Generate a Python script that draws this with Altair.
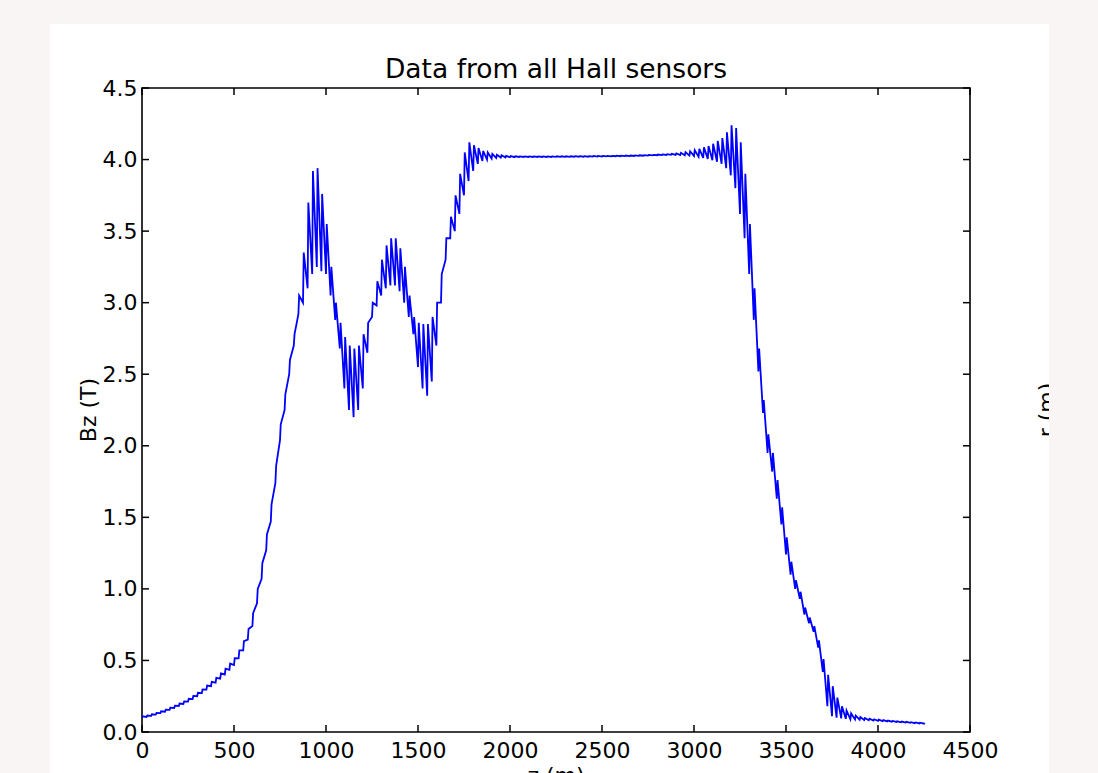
import altair as alt
import pandas as pd

# ---- data ----
Z_POS = list(range(0, 4251, 25))          # sampling positions along z (m)
SPIKE_DZ = 4                               # offset of the paired sensor reading

BZ_LOW = [
    0.100, 0.105, 0.113, 0.122, 0.132, 0.142, 0.155, 0.168, 0.182, 0.196,
    0.212, 0.230, 0.250, 0.272, 0.296, 0.320, 0.345, 0.373, 0.402, 0.435,
    0.468, 0.515, 0.570, 0.645, 0.740, 0.900, 1.070, 1.270, 1.470, 1.740,
    2.040, 2.250, 2.500, 2.700, 2.920, 3.000, 3.100, 3.200, 3.250, 3.220,
    3.200, 3.050, 2.880, 2.680, 2.400, 2.250, 2.200, 2.250, 2.400, 2.650,
    2.900, 2.980, 3.050, 3.100, 3.120, 3.120, 3.080, 3.000, 2.900, 2.780,
    2.550, 2.400, 2.350, 2.450, 2.700, 3.000, 3.300, 3.450, 3.500, 3.620,
    3.750, 3.850, 3.920, 3.970, 3.990, 4.000, 4.008, 4.012, 4.014, 4.015,
    4.016, 4.017, 4.018, 4.018, 4.018, 4.018, 4.018, 4.018, 4.018, 4.018,
    4.019, 4.019, 4.019, 4.019, 4.020, 4.020, 4.020, 4.020, 4.021, 4.021,
    4.021, 4.022, 4.022, 4.023, 4.023, 4.024, 4.024, 4.025, 4.026, 4.027,
    4.028, 4.029, 4.030, 4.031, 4.032, 4.033, 4.033, 4.032, 4.030, 4.028,
    4.025, 4.020, 4.012, 4.005, 3.995, 3.985, 3.970, 3.940, 3.890, 3.800,
    3.620, 3.450, 3.200, 2.880, 2.520, 2.230, 1.950, 1.820, 1.630, 1.450,
    1.240, 1.100, 1.000, 0.930, 0.820, 0.760, 0.700, 0.590, 0.420, 0.180,
    0.110, 0.100, 0.095, 0.092, 0.090, 0.088, 0.086, 0.084, 0.082, 0.080,
    0.078, 0.076, 0.074, 0.072, 0.070, 0.068, 0.066, 0.064, 0.062, 0.060,
    0.058,
]

BZ_HIGH = [
    0.110, 0.115, 0.124, 0.134, 0.145, 0.156, 0.170, 0.184, 0.199, 0.214,
    0.232, 0.252, 0.274, 0.298, 0.324, 0.350, 0.378, 0.410, 0.442, 0.478,
    0.516, 0.570, 0.635, 0.720, 0.830, 1.000, 1.180, 1.380, 1.590, 1.860,
    2.150, 2.360, 2.600, 2.780, 3.050, 3.350, 3.700, 3.920, 3.940, 3.760,
    3.550, 3.250, 3.000, 2.860, 2.760, 2.700, 2.680, 2.700, 2.780, 2.860,
    3.000, 3.150, 3.300, 3.400, 3.450, 3.450, 3.380, 3.250, 3.050, 2.900,
    2.860, 2.850, 2.850, 2.900, 3.000, 3.200, 3.450, 3.600, 3.750, 3.900,
    4.050, 4.120, 4.100, 4.080, 4.060, 4.050, 4.040, 4.034, 4.030, 4.026,
    4.024, 4.023, 4.022, 4.022, 4.022, 4.022, 4.022, 4.022, 4.022, 4.022,
    4.023, 4.023, 4.023, 4.023, 4.024, 4.024, 4.024, 4.024, 4.025, 4.025,
    4.025, 4.026, 4.026, 4.027, 4.027, 4.028, 4.028, 4.029, 4.030, 4.031,
    4.032, 4.033, 4.035, 4.036, 4.038, 4.040, 4.043, 4.047, 4.052, 4.058,
    4.065, 4.075, 4.085, 4.095, 4.110, 4.130, 4.150, 4.190, 4.240, 4.220,
    4.120, 3.900, 3.550, 3.100, 2.680, 2.320, 2.080, 1.950, 1.760, 1.570,
    1.360, 1.190, 1.060, 0.980, 0.870, 0.800, 0.740, 0.640, 0.510, 0.400,
    0.320, 0.240, 0.180, 0.150, 0.130, 0.115, 0.105, 0.098, 0.093, 0.089,
    0.086, 0.083, 0.080, 0.077, 0.075, 0.073, 0.071, 0.069, 0.067, 0.065,
    0.063,
]

X_TICKS = [0, 500, 1000, 1500, 2000, 2500, 3000, 3500, 4000, 4500]
Y_TICKS = [0.0, 0.5, 1.0, 1.5, 2.0, 2.5, 3.0, 3.5, 4.0, 4.5]

TITLE = "Data from all Hall sensors"
X_TITLE = "z (m)"
Y_TITLE = "Bz (T)"
NEIGHBOR_TITLE = "r (m)"

# ---- layout ----
W, H = 828, 644
PAD = {"left": 142, "top": 88, "right": 128, "bottom": 41}
PAGE_BG = "#f9f5f4"
FONT = "DejaVu Sans"

rows = []
for k, (z, lo, hi) in enumerate(zip(Z_POS, BZ_LOW, BZ_HIGH)):
    rows.append({"z": z, "bz": lo, "i": 2 * k})
    rows.append({"z": z + SPIKE_DZ, "bz": hi, "i": 2 * k + 1})
df = pd.DataFrame(rows)

xs = alt.Scale(domain=[0, 4500], nice=False, zero=False)
ys = alt.Scale(domain=[0, 4.5], nice=False, zero=False)

axis_common = dict(
    title=None, ticks=False, domain=False, grid=False,
    labelFont=FONT, labelFontSize=22, labelColor="black",
    labelFlush=False, labelOverlap=False,
)
x_axis = alt.Axis(values=X_TICKS, format="d", labelPadding=8, **axis_common)
y_axis = alt.Axis(values=Y_TICKS, format=".1f", labelPadding=5, **axis_common)

line = alt.Chart(df).mark_line(color="#0000ff", strokeWidth=1.8).encode(
    x=alt.X("z:Q", scale=xs, axis=x_axis),
    y=alt.Y("bz:Q", scale=ys, axis=y_axis),
    order="i:Q",
)

xt = pd.DataFrame({"t": X_TICKS})
yt = pd.DataFrame({"t": Y_TICKS})
tick_style = dict(color="black", strokeWidth=1.5)
tick_bottom = alt.Chart(xt).mark_rule(**tick_style).encode(
    x=alt.X("t:Q", scale=xs, axis=x_axis), y=alt.value(H), y2=alt.value(H - 7))
tick_top = alt.Chart(xt).mark_rule(**tick_style).encode(
    x=alt.X("t:Q", scale=xs, axis=x_axis), y=alt.value(0), y2=alt.value(7))
tick_left = alt.Chart(yt).mark_rule(**tick_style).encode(
    y=alt.Y("t:Q", scale=ys, axis=y_axis), x=alt.value(0), x2=alt.value(7))
tick_right = alt.Chart(yt).mark_rule(**tick_style).encode(
    y=alt.Y("t:Q", scale=ys, axis=y_axis), x=alt.value(W), x2=alt.value(W - 7))

one = pd.DataFrame({"a": [0]})


def label(text, x, y, size, angle=0):
    kw = dict(text=text, font=FONT, fontSize=size, color="black",
              align="center", baseline="alphabetic")
    if angle:
        kw["angle"] = angle
    return alt.Chart(one).mark_text(**kw).encode(x=alt.value(x), y=alt.value(y))


def strip(x1, x2, y1, y2):
    return alt.Chart(one).mark_rect(color=PAGE_BG, strokeWidth=0).encode(
        x=alt.value(x1), x2=alt.value(x2), y=alt.value(y1), y2=alt.value(y2))


title = label(TITLE, W / 2, -10, 26.5)
xtitle = label(X_TITLE, W / 2, 695, 22)
ytitle = label(Y_TITLE, -46, H / 2, 22, angle=270)
rtitle = label(NEIGHBOR_TITLE, 912, H / 2, 22, angle=270)

left_strip = strip(-142, -92, -88, 685)
top_strip = strip(-142, 956, -88, -64)
right_strip = strip(907, 956, -88, 685)

chart = alt.layer(
    left_strip, top_strip, line,
    tick_bottom, tick_top, tick_left, tick_right,
    title, xtitle, ytitle, rtitle, right_strip,
).properties(
    width=W, height=H,
    autosize=alt.AutoSizeParams(type="none"),
    padding=PAD,
).configure(
    background="white",
).configure_view(
    stroke="black", strokeWidth=1.6, fill="white",
)

chart.save("out.html", embed_options={"renderer": "svg", "actions": False})
